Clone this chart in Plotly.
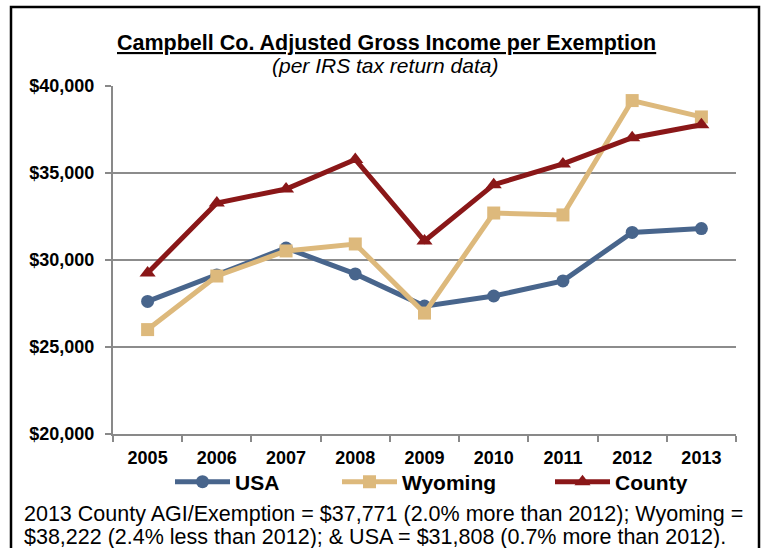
import plotly.graph_objects as go

years = ["2005", "2006", "2007", "2008", "2009", "2010", "2011", "2012", "2013"]
usa = [27620, 29140, 30690, 29200, 27350, 27930, 28800, 31587, 31808]
wyoming = [26000, 29080, 30520, 30920, 26950, 32700, 32590, 39162, 38222]
county = [29250, 33280, 34080, 35780, 31090, 34330, 35520, 37030, 37771]
y_ticks = [20000, 25000, 30000, 35000, 40000]
y_tick_labels = ["$20,000", "$25,000", "$30,000", "$35,000", "$40,000"]

FONT = "Liberation Sans, Arial, sans-serif"
W, H = 762, 548
pl, pr, pt, pb = 113, 26, 86, 114
pw, ph = W - pl - pr, H - pt - pb


def px(xp):
    return (xp - pl) / pw


def py(yp):
    return (H - pb - yp) / ph


USA_C, WY_C, CO_C = "#48658C", "#DDB97C", "#8A1718"

fig = go.Figure()
fig.add_trace(go.Scatter(x=years, y=usa, name="USA", mode="lines+markers", legend="legend",
                         line=dict(color=USA_C, width=5),
                         marker=dict(symbol="circle", size=13, color=USA_C)))
fig.add_trace(go.Scatter(x=years, y=wyoming, name="Wyoming", mode="lines+markers", legend="legend2",
                         line=dict(color=WY_C, width=5),
                         marker=dict(symbol="square", size=13, color=WY_C)))
fig.add_trace(go.Scatter(x=years, y=county, name="County", mode="lines+markers", legend="legend3",
                         line=dict(color=CO_C, width=5),
                         marker=dict(symbol="triangle-up", size=14, color=CO_C)))

leg_font = dict(size=21, family=FONT, color="black", weight="bold")


def leg(xp):
    return dict(orientation="h", x=px(xp), xanchor="left", y=py(482), yanchor="middle",
                font=leg_font, itemwidth=55, bgcolor="rgba(0,0,0,0)", borderwidth=0)


fig.update_layout(
    width=W, height=H,
    margin=dict(l=pl, r=pr, t=pt, b=pb),
    paper_bgcolor="white", plot_bgcolor="white",
    font=dict(family=FONT, color="black"),
    showlegend=True,
    legend=leg(170), legend2=leg(337), legend3=leg(550),
    xaxis=dict(type="category", range=[-0.5, len(years) - 0.5], showgrid=False,
               showline=True, linecolor="#898989", linewidth=2,
               ticks="outside", tickson="boundaries", ticklen=6, tickcolor="#898989", tickwidth=2,
               ticklabelstandoff=6,
               tickfont=dict(size=18, family=FONT, color="black", weight="bold")),
    yaxis=dict(range=[20000, 40000], tickvals=y_ticks, ticktext=y_tick_labels,
               showgrid=True, gridcolor="#8C8C8C", gridwidth=2,
               showline=True, linecolor="#898989", linewidth=2,
               ticks="outside", ticklen=6, tickcolor="#898989", tickwidth=2,
               ticklabelstandoff=7,
               tickfont=dict(size=18, family=FONT, color="black", weight="bold"),
               zeroline=False),
)

fig.add_annotation(text="<b><u>Campbell Co. Adjusted Gross Income per Exemption</u></b>",
                   x=px(386), y=py(43), xref="paper", yref="paper", showarrow=False,
                   font=dict(size=21.5, family=FONT, color="black"), xanchor="center", yanchor="middle")
fig.add_annotation(text="<i>(per IRS tax return data)</i>",
                   x=px(385), y=py(66), xref="paper", yref="paper", showarrow=False,
                   font=dict(size=21, family=FONT, color="black"), xanchor="center", yanchor="middle")
fig.add_annotation(text="2013 County AGI/Exemption = $37,771 (2.0% more than 2012); Wyoming =",
                   x=px(22), y=py(514), xref="paper", yref="paper", showarrow=False, align="left",
                   font=dict(size=21.5, family=FONT, color="black"), xanchor="left", yanchor="middle")
fig.add_annotation(text="$38,222 (2.4% less than 2012); & USA = $31,808 (0.7% more than 2012).",
                   x=px(22), y=py(537), xref="paper", yref="paper", showarrow=False, align="left",
                   font=dict(size=21.5, family=FONT, color="black"), xanchor="left", yanchor="middle")

fig.add_shape(type="rect", xref="paper", yref="paper",
              x0=px(11), x1=px(759), y0=py(580), y1=py(7),
              line=dict(color="black", width=2.5), fillcolor="rgba(0,0,0,0)", layer="below")

fig.write_html("out.html", config={"displayModeBar": False},
               post_script="document.body.style.margin='0';document.body.style.overflow='hidden';")
